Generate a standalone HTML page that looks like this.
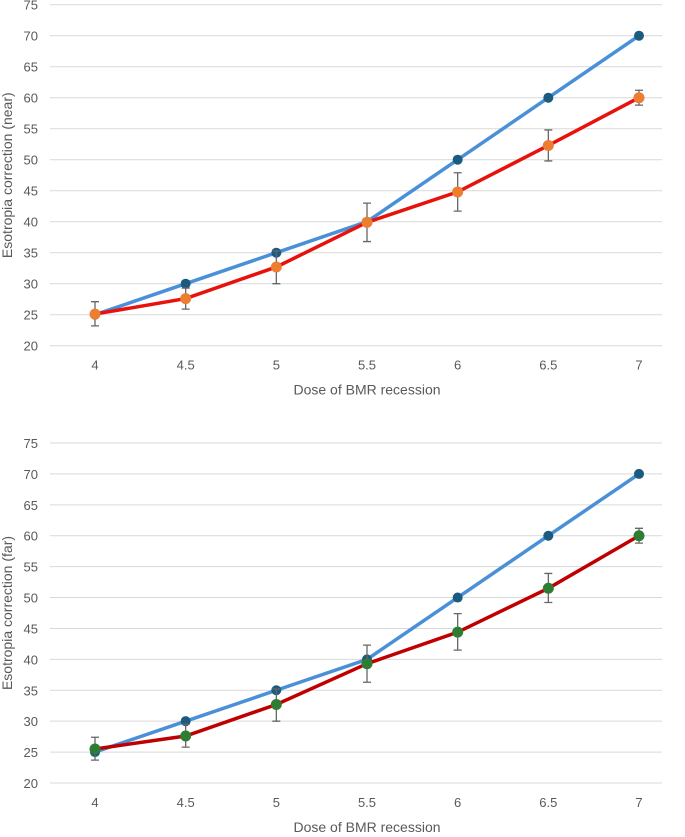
<!DOCTYPE html>
<html><head><meta charset="utf-8"><style>
body{margin:0;background:#fff;}
svg text{font-family:"Liberation Sans",sans-serif;fill:#595959;}
</style></head><body>
<svg id="c" width="685" height="832"></svg>
<script>
const doses=[4,4.5,5,5.5,6,6.5,7];
const yTicks=[20,25,30,35,40,45,50,55,60,65,70,75];
const expectedNear=[25,30,35,40,50,60,70];
const actualNear=[25.1,27.6,32.7,39.9,44.8,52.3,60];
const errLoNear=[23.2,25.9,30,36.8,41.7,49.8,58.8];
const errHiNear=[27.1,29.3,35.3,43,47.9,54.8,61.2];
const expectedFar=[25,30,35,40,50,60,70];
const actualFar=[25.5,27.6,32.7,39.3,44.4,51.5,60];
const errLoFar=[23.7,25.8,30,36.3,41.5,49.2,58.8];
const errHiFar=[27.4,29.5,35.2,42.3,47.4,53.9,61.2];

const svg=document.getElementById('c');
const NS='http://www.w3.org/2000/svg';
function mk(t,a,p){const e=document.createElementNS(NS,t);for(const k in a)e.setAttribute(k,a[k]);p.appendChild(e);return e;}
function chart(top,bottom,title,exp,act,lo,hi,dotCol,lineCol,prefix){
  const g=mk('g',{},svg);
  
  
  const x=v=>95+(v-4)/3*544;
  const y=v=>bottom-(v-20)/55*(bottom-top);
  yTicks.forEach(t=>{
    const l=mk('line',{x1:50,x2:662,y1:y(t),y2:y(t),stroke:'#d9d9d9','stroke-width':1},g);
    
    
    const tx=mk('text',{x:38,y:y(t)+5,'text-anchor':'end','font-size':13},g);
    tx.textContent=t;
    
    
  });
  doses.forEach(d=>{
    const tx=mk('text',{x:x(d),y:bottom+24,'text-anchor':'middle','font-size':13},g);
    tx.textContent=d;
    
    
  });
  const xt=mk('text',{x:367,y:bottom+49,'text-anchor':'middle','font-size':14},g);
  xt.textContent='Dose of BMR recession';
  
  
  const cy=(top+bottom)/2;
  const yt=mk('text',{x:12,y:cy,'text-anchor':'middle','font-size':14,transform:`rotate(-90 12 ${cy})`},g);
  yt.textContent=title;
  
  
  const pe=mk('polyline',{points:doses.map((d,i)=>x(d)+','+y(exp[i])).join(' '),fill:'none',stroke:'#4a90d9','stroke-width':3.5},g);
  
  
  doses.forEach((d,i)=>{
    const c=mk('circle',{cx:x(d),cy:y(exp[i]),r:5,fill:'#1b5b80'},g);
    
    
  });
  doses.forEach((d,i)=>{
    const eb=mk('path',{d:`M${x(d)},${y(lo[i])}V${y(hi[i])}M${x(d)-4},${y(lo[i])}h8M${x(d)-4},${y(hi[i])}h8`,stroke:'#666',fill:'none','stroke-width':1.3},g);
    
    
  });
  const pa=mk('polyline',{points:doses.map((d,i)=>x(d)+','+y(act[i])).join(' '),fill:'none',stroke:lineCol,'stroke-width':3.5},g);
  
  
  doses.forEach((d,i)=>{
    const c=mk('circle',{cx:x(d),cy:y(act[i]),r:5.5,fill:dotCol},g);
    
    
  });
}
chart(4.7,345.7,'Esotropia correction (near)',expectedNear,actualNear,errLoNear,errHiNear,'#ed7d31','#e8120c','near');
chart(443,783,'Esotropia correction (far)',expectedFar,actualFar,errLoFar,errHiFar,'#2e7d32','#c00000','far');
</script>
</body></html>
